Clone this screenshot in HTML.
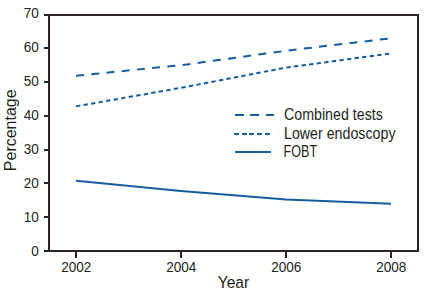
<!DOCTYPE html>
<html><head><meta charset="utf-8"><style>
html,body{margin:0;padding:0;background:#fff;}
svg{display:block;}
text{font-family:"Liberation Sans",sans-serif;fill:#231f20;}
.t{font-size:14.3px;}
.lg{font-size:15.6px;}
</style></head><body>
<svg width="436" height="297" viewBox="0 0 436 297">
<rect x="0" y="0" width="436" height="297" fill="#fff"/>
<rect x="49" y="15" width="369" height="236" fill="none" stroke="#2c2320" stroke-width="2"/>
<text transform="translate(38.9 255.9) scale(0.95 1)" text-anchor="end" class="t">0</text>
<rect x="44" y="250" width="5" height="2" fill="#2c2320"/>
<text transform="translate(38.9 221.9) scale(0.95 1)" text-anchor="end" class="t">10</text>
<rect x="44" y="216" width="5" height="2" fill="#2c2320"/>
<text transform="translate(38.9 187.9) scale(0.95 1)" text-anchor="end" class="t">20</text>
<rect x="44" y="182" width="5" height="2" fill="#2c2320"/>
<text transform="translate(38.9 153.9) scale(0.95 1)" text-anchor="end" class="t">30</text>
<rect x="44" y="149" width="5" height="2" fill="#2c2320"/>
<text transform="translate(38.9 119.9) scale(0.95 1)" text-anchor="end" class="t">40</text>
<rect x="44" y="115" width="5" height="2" fill="#2c2320"/>
<text transform="translate(38.9 85.9) scale(0.95 1)" text-anchor="end" class="t">50</text>
<rect x="44" y="81" width="5" height="2" fill="#2c2320"/>
<text transform="translate(38.9 51.9) scale(0.95 1)" text-anchor="end" class="t">60</text>
<rect x="44" y="47" width="5" height="2" fill="#2c2320"/>
<text transform="translate(38.9 17.9) scale(0.95 1)" text-anchor="end" class="t">70</text>
<rect x="44" y="14" width="5" height="2" fill="#2c2320"/>

<rect x="75" y="251" width="2" height="7" fill="#2c2320"/>
<text transform="translate(76.3 271.8) scale(0.95 1)" text-anchor="middle" class="t">2002</text>
<rect x="180" y="251" width="2" height="7" fill="#2c2320"/>
<text transform="translate(181.3 271.8) scale(0.95 1)" text-anchor="middle" class="t">2004</text>
<rect x="285" y="251" width="2" height="7" fill="#2c2320"/>
<text transform="translate(286.3 271.8) scale(0.95 1)" text-anchor="middle" class="t">2006</text>
<rect x="390" y="251" width="2" height="7" fill="#2c2320"/>
<text transform="translate(391.3 271.8) scale(0.95 1)" text-anchor="middle" class="t">2008</text>

<polyline points="76,75.69 181,65.23 286,50.74 391,38.26" fill="none" stroke="#165da0" stroke-width="2" stroke-dasharray="8 7.3"/>
<polyline points="76,106.37 181,87.82 286,67.59 391,53.43" fill="none" stroke="#165da0" stroke-width="2" stroke-dasharray="4.4 3.24"/>
<polyline points="76,180.87 181,190.99 286,199.42 391,203.80" fill="none" stroke="#165da0" stroke-width="2"/>
<path d="M235 114h9v2h-9zM250 114h9v2h-9zM266 114h8v2h-8z" fill="#165da0"/>
<path d="M234 133h5v2h-5zM242 133h5v2h-5zM249 133h5v2h-5zM257 133h5v2h-5zM265 133h5v2h-5z" fill="#165da0"/>
<path d="M235 151h36v2h-36z" fill="#165da0"/>
<text x="284" y="120.2" class="lg" transform="translate(284 0) scale(0.913 1) translate(-284 0)">Combined tests</text>
<text x="284" y="139.1" class="lg" transform="translate(284 0) scale(0.913 1) translate(-284 0)">Lower endoscopy</text>
<text x="283.6" y="157.5" class="lg" transform="translate(283.6 0) scale(0.807 1) translate(-283.6 0)">FOBT</text>
<text x="233.5" y="287.8" text-anchor="middle" style="font-size:16.6px" transform="translate(233.5 0) scale(0.94 1) translate(-233.5 0)">Year</text>
<text transform="translate(16.2 171.2) rotate(-90) scale(0.965 1)" x="0" y="0" style="font-size:16.6px">Percentage</text>
</svg>
</body></html>
